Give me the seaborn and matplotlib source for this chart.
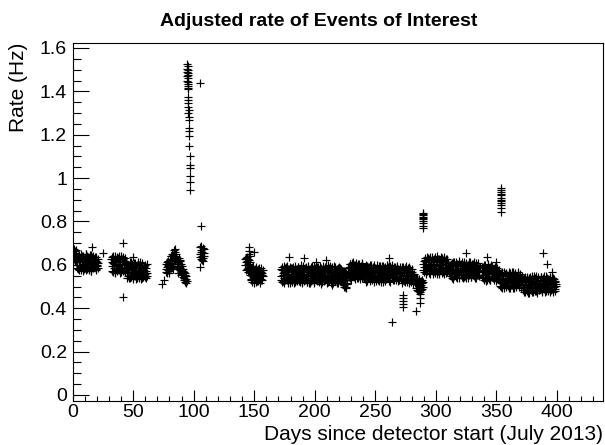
import pandas as pd
import seaborn as sns
import matplotlib.pyplot as plt
from matplotlib.ticker import MultipleLocator, FuncFormatter


# =========================
# 1. DATA
# =========================
# dense bands: first day, then one rate every half day
# (*_rate2 = the readings taken a quarter day later)
seg_a_start = 0.5
seg_a_rate = [0.672, 0.628, 0.655, 0.617, 0.646, 0.668,
              0.624, 0.584, 0.637, 0.598, 0.575, 0.629, 0.611, 0.648, 0.589, 0.614,
              0.641, 0.572, 0.603, 0.633, 0.586, 0.651, 0.608, 0.579, 0.638, 0.596,
              0.627, 0.583, 0.616, 0.646, 0.571, 0.604, 0.636, 0.609, 0.588, 0.626,
              0.598, 0.634, 0.576, 0.612, 0.601, 0.585]
seg_a_rate2 = [0.651, 0.673, 0.619, 0.662, 0.634, 0.611,
               0.597, 0.641, 0.579, 0.621, 0.646, 0.592, 0.634, 0.574, 0.619, 0.643,
               0.594, 0.628, 0.582, 0.613, 0.649, 0.577, 0.621, 0.639, 0.591, 0.617,
               0.578, 0.644, 0.596, 0.573, 0.631, 0.614, 0.584, 0.642, 0.597, 0.621,
               0.637, 0.582, 0.618, 0.594, 0.628, 0.607]

seg_b_start = 32.0
seg_b_rate = [0.628, 0.572, 0.614, 0.641, 0.586, 0.603, 0.566, 0.631, 0.597, 0.638,
              0.574, 0.618, 0.589, 0.627, 0.563, 0.606, 0.642, 0.583, 0.612, 0.571,
              0.629, 0.598, 0.565, 0.619, 0.587,
              0.582, 0.541, 0.596, 0.568, 0.537, 0.588, 0.553, 0.611, 0.546, 0.574,
              0.603, 0.535, 0.561, 0.592, 0.548, 0.609, 0.571, 0.539, 0.598, 0.557,
              0.586, 0.544, 0.577, 0.612, 0.536, 0.563, 0.601, 0.569, 0.542, 0.589,
              0.556, 0.597, 0.538, 0.573, 0.562]
seg_b_rate2 = [0.594, 0.637, 0.568, 0.609, 0.624, 0.561, 0.639, 0.582, 0.616, 0.573,
               0.633, 0.596, 0.642, 0.578, 0.611, 0.587, 0.569, 0.625, 0.604, 0.637,
               0.576, 0.614, 0.632, 0.584, 0.608,
               0.561, 0.604, 0.547, 0.591, 0.579, 0.612, 0.538, 0.583, 0.566, 0.597,
               0.542, 0.584, 0.607, 0.553, 0.576, 0.536, 0.594, 0.558, 0.613, 0.572,
               0.539, 0.601, 0.551, 0.567, 0.594, 0.541, 0.608, 0.578, 0.553, 0.596,
               0.571, 0.544, 0.587, 0.602, 0.548]

seg_c_start = 77.0
seg_c_rate = [0.581, 0.603, 0.562, 0.594, 0.617, 0.573, 0.608,
              0.628, 0.586, 0.641, 0.607, 0.652, 0.596, 0.634,
              0.668, 0.619, 0.657, 0.632, 0.606,
              0.588, 0.624, 0.563, 0.605, 0.577, 0.616, 0.552, 0.593, 0.568,
              0.546, 0.581, 0.532, 0.563, 0.521, 0.549, 0.514]
seg_c_rate2 = [0.567, 0.592, 0.611, 0.578, 0.599, 0.564, 0.621,
               0.603, 0.639, 0.594, 0.624, 0.583, 0.647, 0.617,
               0.642, 0.673, 0.628, 0.649, 0.621,
               0.612, 0.579, 0.631, 0.586, 0.622, 0.569, 0.603, 0.581, 0.557,
               0.573, 0.539, 0.566, 0.528, 0.552, 0.536, 0.527]

seg_d_start = 105.0
seg_d_rate = [0.652, 0.684, 0.628, 0.667, 0.641, 0.676, 0.619, 0.655]
seg_d_rate2 = [0.637, 0.661, 0.688, 0.624, 0.659, 0.633, 0.672, 0.641]

seg_e_start = 142.5
seg_e_rate = [0.627, 0.574, 0.612, 0.638, 0.586, 0.604, 0.622, 0.568,
              0.578, 0.534, 0.563, 0.521, 0.589, 0.547, 0.516, 0.572, 0.538, 0.566,
              0.591, 0.527, 0.553, 0.581, 0.531, 0.568, 0.518, 0.556, 0.584, 0.536,
              0.561, 0.549]
seg_e_rate2 = [0.598, 0.633, 0.579, 0.617, 0.566, 0.626, 0.591, 0.611,
               0.552, 0.586, 0.529, 0.571, 0.543, 0.594, 0.561, 0.533, 0.583, 0.519,
               0.564, 0.548, 0.576, 0.524, 0.587, 0.541, 0.573, 0.532, 0.567, 0.551,
               0.528, 0.574]

seg_f_start = 172.0
seg_f_rate = [0.581, 0.532, 0.589, 0.524, 0.553, 0.568, 0.517, 0.584, 0.541, 0.572,
              0.528, 0.593, 0.556, 0.537, 0.579, 0.515, 0.566, 0.529, 0.586, 0.549,
              0.592, 0.534, 0.571, 0.519, 0.558, 0.583, 0.526, 0.564, 0.543, 0.591,
              0.552, 0.521, 0.578, 0.538, 0.569, 0.514, 0.594, 0.547, 0.527, 0.582,
              0.536, 0.573, 0.589, 0.523, 0.557, 0.584, 0.516, 0.566, 0.541, 0.579,
              0.525, 0.554, 0.593, 0.539, 0.571, 0.518, 0.586, 0.548, 0.529, 0.591,
              0.562, 0.533, 0.582, 0.522, 0.556, 0.594, 0.513, 0.569, 0.542, 0.578,
              0.551, 0.527, 0.565, 0.592, 0.535, 0.583, 0.517, 0.553, 0.572, 0.526,
              0.587, 0.538, 0.595, 0.549, 0.523, 0.568, 0.515, 0.581, 0.544, 0.558,
              0.591, 0.528, 0.567, 0.536, 0.585, 0.518, 0.552, 0.574, 0.524, 0.583,
              0.541,
              0.556, 0.512, 0.548, 0.497, 0.571, 0.528, 0.494, 0.562, 0.517, 0.543,
              0.552, 0.591, 0.563, 0.602, 0.538, 0.579, 0.608, 0.547, 0.594, 0.559,
              0.601, 0.573, 0.534, 0.609, 0.556, 0.588, 0.541, 0.576, 0.604, 0.562,
              0.536, 0.593, 0.571, 0.607, 0.549, 0.578,
              0.591, 0.543, 0.576, 0.522, 0.598, 0.557, 0.531, 0.589, 0.546, 0.581,
              0.524, 0.563, 0.597, 0.536, 0.578, 0.549, 0.592, 0.521, 0.566, 0.584,
              0.533, 0.599, 0.551, 0.579, 0.562, 0.526, 0.594, 0.544, 0.582, 0.538,
              0.596, 0.558, 0.523, 0.586, 0.547, 0.591, 0.535, 0.568, 0.598, 0.541,
              0.577, 0.525, 0.564, 0.593, 0.537, 0.583, 0.552, 0.597, 0.528, 0.561,
              0.589, 0.545, 0.579, 0.532, 0.566, 0.595, 0.524, 0.581, 0.548, 0.563,
              0.582, 0.536, 0.567, 0.518, 0.589, 0.547, 0.524, 0.577, 0.538, 0.571,
              0.593, 0.521, 0.553, 0.584, 0.515, 0.563, 0.541, 0.579, 0.527, 0.558,
              0.566, 0.513, 0.544, 0.557, 0.522, 0.536,
              0.531, 0.492, 0.523, 0.481, 0.512, 0.536, 0.474, 0.503, 0.527, 0.486,
              0.514, 0.497]
seg_f_rate2 = [0.547, 0.576, 0.521, 0.563, 0.594, 0.538, 0.572, 0.529, 0.588, 0.551,
               0.566, 0.518, 0.581, 0.544, 0.592, 0.533, 0.559, 0.585, 0.523, 0.569,
               0.541, 0.577, 0.516, 0.596, 0.549, 0.531, 0.574, 0.558, 0.591, 0.527,
               0.583, 0.564, 0.536, 0.597, 0.519, 0.553, 0.581, 0.542, 0.571, 0.528,
               0.587, 0.549, 0.522, 0.567, 0.593, 0.537, 0.576, 0.558, 0.514, 0.589,
               0.563, 0.531, 0.582, 0.546, 0.523, 0.595, 0.552, 0.574, 0.538, 0.568,
               0.526, 0.589, 0.547, 0.577, 0.532, 0.561, 0.584, 0.519, 0.556, 0.593,
               0.537, 0.572, 0.528, 0.549, 0.586, 0.543, 0.566, 0.597, 0.521, 0.578,
               0.534, 0.562, 0.518, 0.573, 0.589, 0.542, 0.557, 0.531, 0.594, 0.524,
               0.569, 0.547, 0.583, 0.516, 0.559, 0.591, 0.539, 0.566, 0.587, 0.545,
               0.571,
               0.523, 0.558, 0.506, 0.541, 0.566, 0.499, 0.537, 0.553, 0.511, 0.569,
               0.587, 0.546, 0.604, 0.568, 0.531, 0.592, 0.557, 0.583, 0.611, 0.543,
               0.574, 0.598, 0.552, 0.586, 0.564, 0.537, 0.603, 0.569, 0.548, 0.591,
               0.581, 0.559, 0.606, 0.539, 0.587, 0.563,
               0.553, 0.584, 0.536, 0.571, 0.594, 0.527, 0.566, 0.547, 0.589, 0.558,
               0.598, 0.541, 0.572, 0.529, 0.586, 0.562, 0.538, 0.597, 0.553, 0.524,
               0.576, 0.548, 0.587, 0.531, 0.569, 0.595, 0.543, 0.561, 0.523, 0.584,
               0.546, 0.578, 0.593, 0.534, 0.563, 0.527, 0.581, 0.556, 0.539, 0.588,
               0.546, 0.596, 0.571, 0.522, 0.558, 0.585, 0.538, 0.567, 0.574, 0.529,
               0.553, 0.591, 0.536, 0.569, 0.587, 0.542, 0.576, 0.557, 0.531, 0.592,
               0.548, 0.574, 0.527, 0.591, 0.553, 0.531, 0.569, 0.586, 0.523, 0.561,
               0.541, 0.578, 0.534, 0.566, 0.592, 0.529, 0.572, 0.548, 0.519, 0.583,
               0.537, 0.554, 0.526, 0.549, 0.517, 0.528,
               0.514, 0.538, 0.483, 0.527, 0.502, 0.479, 0.521, 0.491, 0.509, 0.532,
               0.488, 0.519]

seg_g_start = 289.5
seg_g_rate = [0.576, 0.619, 0.588, 0.631, 0.562, 0.604, 0.637, 0.571, 0.622, 0.583,
              0.628, 0.596, 0.558, 0.614, 0.581, 0.635, 0.567, 0.606, 0.626, 0.579,
              0.561, 0.618, 0.593, 0.639, 0.572, 0.587, 0.629, 0.559, 0.603, 0.621,
              0.584, 0.633, 0.568, 0.599, 0.636, 0.557, 0.616, 0.582, 0.601, 0.627,
              0.566, 0.598, 0.585, 0.561,
              0.556, 0.597, 0.568, 0.609, 0.541, 0.583, 0.614, 0.549, 0.601, 0.563,
              0.611, 0.579, 0.538, 0.594, 0.566, 0.617, 0.551, 0.586, 0.606, 0.559,
              0.543, 0.598, 0.574, 0.613, 0.546, 0.571, 0.604, 0.539, 0.582, 0.596,
              0.561, 0.608, 0.553, 0.587, 0.615, 0.542, 0.593, 0.567, 0.581, 0.603,
              0.548, 0.591, 0.564, 0.537, 0.607, 0.576, 0.552, 0.595, 0.569, 0.584]
seg_g_rate2 = [0.603, 0.567, 0.624, 0.591, 0.556, 0.613, 0.586, 0.632, 0.597, 0.564,
               0.611, 0.638, 0.577, 0.606, 0.589, 0.559, 0.624, 0.593, 0.571, 0.634,
               0.599, 0.575, 0.612, 0.558, 0.626, 0.594, 0.568, 0.617, 0.583, 0.637,
               0.604, 0.562, 0.621, 0.589, 0.573, 0.614, 0.597, 0.561, 0.628, 0.586,
               0.609, 0.574, 0.592, 0.579,
               0.589, 0.547, 0.603, 0.574, 0.536, 0.596, 0.562, 0.611, 0.583, 0.544,
               0.571, 0.605, 0.558, 0.587, 0.612, 0.541, 0.578, 0.599, 0.552, 0.581,
               0.614, 0.566, 0.537, 0.592, 0.575, 0.548, 0.609, 0.584, 0.557, 0.597,
               0.539, 0.576, 0.611, 0.563, 0.588, 0.545, 0.602, 0.571, 0.553, 0.614,
               0.579, 0.541, 0.597, 0.566, 0.586, 0.551, 0.608, 0.572, 0.547, 0.591]

seg_h_start = 338.0
seg_h_rate = [0.588, 0.543, 0.574, 0.531, 0.597, 0.556, 0.527, 0.584, 0.546, 0.579,
              0.602, 0.536, 0.561, 0.591, 0.529, 0.576, 0.549, 0.596, 0.558, 0.538,
              0.581, 0.544, 0.589, 0.526, 0.563, 0.577, 0.535, 0.568, 0.552,
              0.551, 0.504, 0.562, 0.516, 0.493, 0.547, 0.528, 0.566, 0.508, 0.536,
              0.558, 0.497, 0.521, 0.553, 0.502, 0.568, 0.531, 0.491, 0.561, 0.514,
              0.544, 0.506, 0.533, 0.569, 0.495, 0.524, 0.557, 0.527, 0.503, 0.548,
              0.518, 0.559, 0.496, 0.535, 0.546, 0.509, 0.538, 0.522,
              0.527, 0.483, 0.538, 0.496, 0.474, 0.531, 0.505, 0.546, 0.481, 0.513,
              0.541, 0.472, 0.498, 0.529, 0.486, 0.549, 0.509, 0.476, 0.536, 0.494,
              0.524, 0.479, 0.517, 0.547, 0.471, 0.501, 0.539, 0.511, 0.484, 0.526,
              0.497, 0.543, 0.473, 0.515, 0.532, 0.488, 0.548, 0.502, 0.519, 0.477,
              0.537, 0.493, 0.528, 0.482, 0.514, 0.544, 0.475, 0.506, 0.533, 0.487,
              0.521, 0.541, 0.499, 0.478, 0.525, 0.503]
seg_h_rate2 = [0.551, 0.589, 0.537, 0.572, 0.598, 0.541, 0.566, 0.583, 0.529, 0.594,
               0.558, 0.547, 0.586, 0.532, 0.571, 0.601, 0.544, 0.567, 0.581, 0.528,
               0.559, 0.592, 0.539, 0.574, 0.548, 0.587, 0.556, 0.541, 0.578,
               0.523, 0.558, 0.497, 0.541, 0.567, 0.511, 0.536, 0.492, 0.553, 0.526,
               0.507, 0.564, 0.538, 0.518, 0.549, 0.494, 0.561, 0.529, 0.543, 0.505,
               0.568, 0.521, 0.491, 0.552, 0.537, 0.512, 0.563, 0.499, 0.546, 0.528,
               0.567, 0.507, 0.541, 0.519, 0.556, 0.493, 0.532, 0.547,
               0.498, 0.534, 0.476, 0.519, 0.545, 0.487, 0.512, 0.538, 0.471, 0.527,
               0.503, 0.482, 0.544, 0.516, 0.491, 0.533, 0.474, 0.521, 0.548, 0.497,
               0.509, 0.537, 0.478, 0.525, 0.492, 0.546, 0.513, 0.484, 0.531, 0.502,
               0.542, 0.477, 0.518, 0.494, 0.539, 0.508, 0.473, 0.527, 0.549, 0.486,
               0.511, 0.535, 0.479, 0.523, 0.496, 0.541, 0.507, 0.482, 0.529, 0.515,
               0.474, 0.536, 0.501, 0.522, 0.489, 0.512]

# the big excursion near day 95
spike_day = [94.6, 95.0, 94.8, 95.2, 94.7, 95.0, 95.3, 94.9, 95.1, 94.8,
             95.2, 95.0, 95.3, 95.1, 95.4, 95.5, 95.6, 95.4, 95.7, 95.8,
             95.6, 95.9, 96.0, 96.1, 96.3, 96.2, 96.5, 96.7, 96.6, 96.9,
             97.0, 97.1, 97.2]
spike_rate = [1.525, 1.515, 1.505, 1.50, 1.49, 1.485, 1.475, 1.47, 1.46, 1.45,
              1.445, 1.435, 1.425, 1.415, 1.41, 1.375, 1.36, 1.345, 1.33, 1.315,
              1.30, 1.28, 1.27, 1.23, 1.215, 1.195, 1.15, 1.10, 1.06, 1.045,
              1.01, 0.98, 0.945]

# small clusters
clus_day = [289.4, 289.7, 289.5, 289.6, 289.3, 289.6, 289.5, 289.7, 289.4, 289.6,
            353.6, 353.8, 353.7, 353.5, 353.8, 353.6, 353.7, 353.9, 353.6, 353.7,
            353.8, 353.7,
            273.0, 273.2, 272.9, 273.1, 273.0, 286.8, 287.0, 287.2, 287.0]
clus_rate = [0.84, 0.835, 0.83, 0.82, 0.815, 0.81, 0.80, 0.795, 0.78, 0.77,
             0.955, 0.945, 0.935, 0.925, 0.92, 0.91, 0.90, 0.895, 0.885, 0.875,
             0.86, 0.845,
             0.46, 0.447, 0.433, 0.42, 0.406, 0.484, 0.465, 0.445, 0.425]

# isolated points
outlier_day = [16.5, 25.0, 42.0, 42.0, 50.0, 74.0, 75.5, 105.0, 106.5, 105.5,
               146.0, 146.0, 146.0, 146.5, 150.0, 179.0, 191.0, 201.0, 209.5,
               214.5, 226.0, 261.0, 264.0, 284.0, 325.0, 342.0, 350.0, 388.6,
               392.0, 396.0]
outlier_rate = [0.68, 0.655, 0.70, 0.45, 0.636, 0.51, 0.53, 0.59, 0.78, 1.44,
                0.68, 0.665, 0.65, 0.64, 0.66, 0.636, 0.63, 0.613, 0.622,
                0.507, 0.50, 0.63, 0.336, 0.385, 0.655, 0.636, 0.613, 0.655,
                0.604, 0.567]

# =========================
# 2. BUILD TABLE
# =========================
segments = [(seg_a_start, seg_a_rate, seg_a_rate2),
            (seg_b_start, seg_b_rate, seg_b_rate2),
            (seg_c_start, seg_c_rate, seg_c_rate2),
            (seg_d_start, seg_d_rate, seg_d_rate2),
            (seg_e_start, seg_e_rate, seg_e_rate2),
            (seg_f_start, seg_f_rate, seg_f_rate2),
            (seg_g_start, seg_g_rate, seg_g_rate2),
            (seg_h_start, seg_h_rate, seg_h_rate2)]

days, rates = [], []
for start, vals, vals2 in segments:
    days += [start + 0.5 * i for i in range(len(vals))]
    rates += vals
    days += [start + 0.25 + 0.5 * i for i in range(len(vals2))]
    rates += vals2
days += spike_day + clus_day + outlier_day
rates += spike_rate + clus_rate + outlier_rate

df = pd.DataFrame({"day": days, "rate": rates})

# =========================
# 3. PLOT
# =========================
sns.set_style("white")
plt.rcParams["font.family"] = ["Liberation Sans", "DejaVu Sans"]
plt.rcParams["text.color"] = "black"
plt.rcParams["axes.labelcolor"] = "black"

fig = plt.figure(figsize=(6.05, 4.45), dpi=100)
ax = fig.add_axes([72.5 / 605, 1 - 401 / 445, 530.5 / 605, 358 / 445])

sns.scatterplot(data=df, x="day", y="rate", marker="+", color="black",
                s=32, linewidth=0.85, legend=False, ax=ax)

ax.set_xlim(0, 438)
ax.set_ylim(-0.028, 1.623)

ax.xaxis.set_major_locator(MultipleLocator(50))
ax.xaxis.set_minor_locator(MultipleLocator(10))
ax.yaxis.set_major_locator(MultipleLocator(0.2))
ax.yaxis.set_minor_locator(MultipleLocator(0.05))
ax.yaxis.set_major_formatter(FuncFormatter(lambda v, p: "%g" % round(v, 2)))

ax.tick_params(axis="both", which="both", direction="in", left=True,
               bottom=True, top=False, right=False, colors="black",
               labelsize=14, width=0.8)
ax.tick_params(axis="y", which="major", length=11.5, pad=4)
ax.tick_params(axis="y", which="minor", length=5.8)
ax.tick_params(axis="x", which="major", length=7.8, pad=2)
ax.tick_params(axis="x", which="minor", length=3.9)

for sp in ax.spines.values():
    sp.set_color("black")
    sp.set_linewidth(0.8)

ax.set_title("Adjusted rate of Events of Interest", fontsize=14,
             fontweight="bold", color="black", x=0.465, pad=12)
ax.set_xlabel("Days since detector start (July 2013)", fontsize=15, loc="right")
ax.set_ylabel("Rate (Hz)", fontsize=15, loc="top")
ax.xaxis.set_label_coords(1.0, -0.066)
ax.yaxis.set_label_coords(-0.084, 1.0)

plt.savefig("out.png", dpi=100)
